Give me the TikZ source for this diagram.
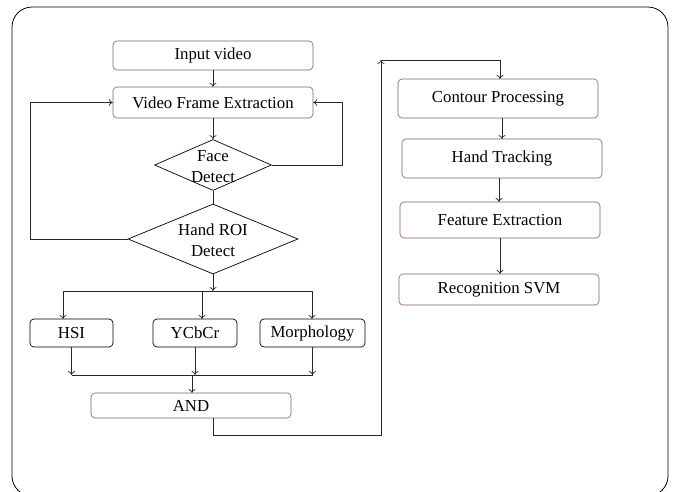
\documentclass[tikz,border=0pt]{standalone}
\usepackage{fontspec}
\setmainfont{Liberation Serif}
\usetikzlibrary{shapes.geometric,arrows.meta}
\definecolor{boxbrown}{RGB}{140,90,90}
\definecolor{lin}{RGB}{40,40,40}
\begin{document}
\begin{tikzpicture}[x=1pt,y=-1pt,
  every node/.style={font=\fontsize{16.8}{19}\selectfont},
  bbox/.style={draw=boxbrown,rounded corners=4pt,minimum width=200pt,inner sep=0pt,line width=0.6pt},
  kbox/.style={draw=black,rounded corners=4pt,inner sep=0pt,minimum height=28pt,line width=0.7pt},
  dia/.style={draw=black,diamond,inner sep=0pt,line width=0.7pt,align=center},
  conn/.style={draw=lin,line width=0.7pt},
  arr/.style={conn,-{To[length=4pt,width=7pt]}}]
\useasboundingbox (0,0) rectangle (673,491);
\draw[line width=0.8pt,rounded corners=20pt] (12,7) rectangle (668,496);
% left column
\node[bbox,minimum height=29pt] (inp) at (213,55.5) {Input video};
\node[bbox,minimum height=31pt] (vfe) at (213,102.5) {Video Frame Extraction};
\node[dia,minimum width=117pt,minimum height=51pt] (face) at (213,165) {};
\node at (213,156) {Face};
\node at (213,177) {Detect};
\node[dia,minimum width=170pt,minimum height=70pt] (roi) at (213,239) {};
\node at (213,230) {Hand ROI};
\node at (213,251) {Detect};
\node[kbox,minimum width=83pt] (hsi) at (71.5,333) {HSI};
\node[kbox,minimum width=84pt] (ycc) at (195,333) {YCbCr};
\node[kbox,minimum width=105pt] (mor) at (312.5,333) {Morphology};
\node[bbox,minimum height=25pt] (and) at (191,405.5) {AND};
% right column
\node[bbox,minimum height=39pt] (con) at (498,98.5) {Contour Processing};
\node[bbox,minimum height=39pt] (trk) at (502,158.5) {Hand Tracking};
\node[bbox,minimum height=36pt] (fea) at (500,220) {Feature Extraction};
\node[bbox,minimum height=31pt] (rec) at (499,289.5) {Recognition SVM};
% coordinates
\coordinate (br) at (213,291);
\coordinate (mg) at (192,375);
\coordinate (up) at (381,60);
% connectors
\draw[arr] (inp) -- (vfe);
\draw[arr] (vfe) -- (face);
\draw[conn] (face.south) -- (roi.north);
\draw[arr] (face.east) -- (342,165) |- (vfe.east);
\draw[arr] (roi.west) -- (30,239) |- (vfe.west);
\draw[arr] (roi.south) -- (br);
\draw[conn] (63,291) -- (312,291);
\draw[arr] (63,291) -- (63,319);
\draw[arr] (202,291) -- (202,319);
\draw[arr] (312,291) -- (312,319);
\draw[arr] (hsi.south) -- (71.5,375);
\draw[arr] (ycc.south) -- (195,375);
\draw[arr] (mor.south) -- (312.5,375);
\draw[conn] (71.5,375) -- (312.5,375);
\draw[arr] (mg) -- (192,393);
\draw[arr] (213,418) |- (381,435) -- (up);
\draw[arr] (up) -| (500,79);
\draw[arr] (502,118) -- (502,139);
\draw[arr] (499,178) -- (499,202);
\draw[arr] (500,238) -- (500,274);
\end{tikzpicture}
\end{document}
